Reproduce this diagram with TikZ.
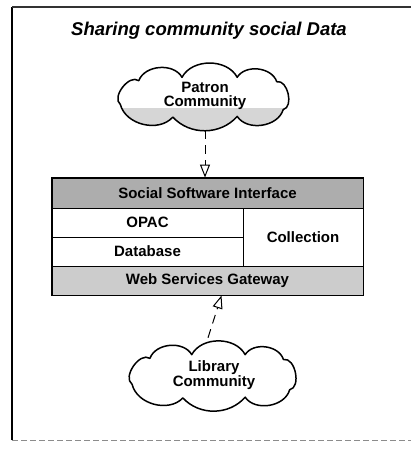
\documentclass[tikz,border=0pt]{standalone}
\usepackage{fontspec}
\setmainfont{Liberation Sans}
\usetikzlibrary{arrows.meta,calc}
\newcommand{\mycloudpath}{({-0.92*\cw},{0.25*\ch}) to[bend left=90] ({-0.72*\cw},{-0.45*\ch})
  to[bend left=65] ({-0.25*\cw},{-0.55*\ch})
  to[bend left=62] ({0.35*\cw},{-0.55*\ch})
  to[bend left=65] ({0.78*\cw},{-0.42*\ch})
  to[bend left=90] ({0.85*\cw},{0.4*\ch})
  to[bend left=65] ({0.35*\cw},{0.6*\ch})
  to[bend left=48] ({-0.35*\cw},{0.62*\ch})
  to[bend left=62] ({-0.92*\cw},{0.25*\ch})}
\begin{document}
\begin{tikzpicture}[x=1pt,y=-1pt,
  cell/.style={draw=black, line width=0.9pt, inner sep=0pt, anchor=center,
    font=\fontsize{15}{17}\selectfont\bfseries},
  shadedark/.style={fill=black!32},
  shadelight/.style={fill=black!20},
  cloudtext/.style={inner sep=0pt, align=center,
    font=\fontsize{15}{14.5}\selectfont\bfseries},
  cloudline/.style={draw=black, line width=1.5pt, line join=round},
  conn/.style={line width=1pt, dash pattern=on 9pt off 6pt,
    -{Triangle[open,length=13pt,width=10pt,line width=1pt]}}
]
\useasboundingbox (0,0) rectangle (411,449);
% frame
\draw[line width=2pt] (12,440) -- (12,7);
\draw[line width=1.3pt, black!80] (12,7) -- (411,7);
\draw[line width=1pt, black!45, dash pattern=on 6pt off 3pt] (12,440) -- (411,440);
% title
\node[font=\fontsize{18.5}{20}\selectfont\bfseries\itshape] (title) at (209,31) {Sharing community social Data};
% patron cloud
\def\cw{92}\def\ch{34}
\begin{scope}[shift={(205,96)}]
  \begin{scope}
    \clip \mycloudpath;
    \fill[black!16] (-100,12) rectangle (100,40);
  \end{scope}
  \path[cloudline] \mycloudpath;
\end{scope}
\node[cloudtext, minimum width=184, minimum height=68] (patron) at (205,96) {Patron\\Community};
% library cloud
\def\cw{89}\def\ch{37}
\begin{scope}[shift={(214,375)}]
  \path[cloudline] \mycloudpath;
\end{scope}
\node[cloudtext, minimum width=178, minimum height=74] (library) at (214,375) {Library\\Community};
% stack
\node[cell, shadedark, minimum width=311, minimum height=30] (ssi) at (207.5,193) {Social Software Interface};
\node[cell, minimum width=191, minimum height=29] (opac) at (147.5,222.5) {OPAC};
\node[cell, minimum width=191, minimum height=29] (db) at (147.5,251.5) {Database};
\node[cell, minimum width=120, minimum height=58] (coll) at (303,237) {Collection};
\node[cell, shadelight, minimum width=311, minimum height=29] (gw) at (207.5,280.5) {Web Services Gateway};
\draw[line width=1.8pt] (ssi.north west) rectangle (gw.south east);
% connectors
\draw[conn] (patron.south) -- (patron.south |- ssi.north);
\coordinate (gwin) at ($(gw.south)+(14,0)$);
\draw[conn] ($(library.north)+(-6,0)$) -- (gwin);
\end{tikzpicture}
\end{document}
